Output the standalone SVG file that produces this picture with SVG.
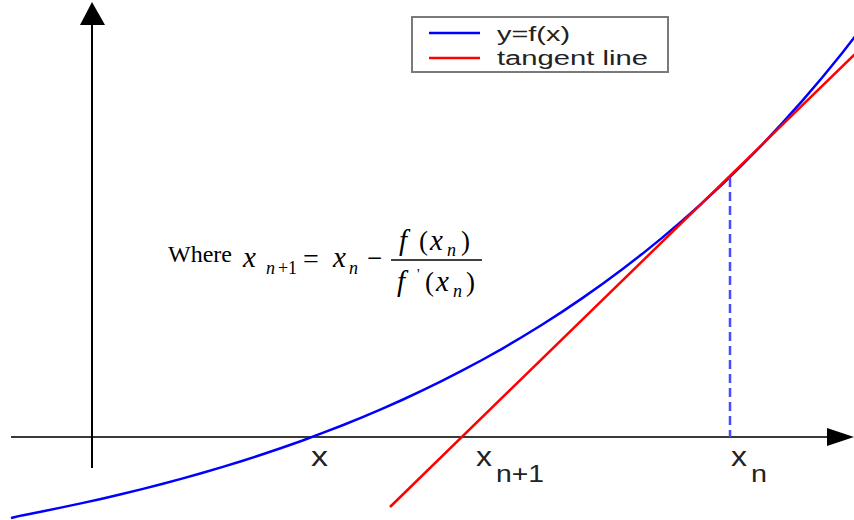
<svg xmlns="http://www.w3.org/2000/svg" width="854" height="520" viewBox="0 0 854 520">
  <defs>
    <style>
      .axis { stroke: #000; stroke-width: 2; fill: none; }
      .haxis { stroke: #3a3a3a; stroke-width: 2; fill: none; }
      .head { fill: #000; }
      .curve { stroke: #0000ff; stroke-width: 2.5; fill: none; stroke-linejoin: round; }
      .tangent { stroke: #ff0000; stroke-width: 2.5; fill: none; }
      .dash { stroke: #4a4aff; stroke-width: 2.5; stroke-dasharray: 9 5; fill: none; }
      .lbl { font-family: "Liberation Sans", Arial, sans-serif; fill: #222; }
      .leg { font-family: "Liberation Sans", Arial, sans-serif; font-size: 20px; fill: #222; }
      .m { font-family: "Liberation Serif", "Times New Roman", serif; fill: #000; }
      .mi { font-family: "Liberation Serif", "Times New Roman", serif; font-style: italic; fill: #000; }
    </style>
  </defs>
  <rect width="854" height="520" fill="#fff"/>

  <g id="axes">
    <line class="haxis" x1="11" y1="437" x2="830" y2="437"/>
    <polygon class="head" points="827,428 854,437 827,446"/>
    <line class="axis" x1="92" y1="468" x2="92" y2="22"/>
    <polygon class="head" points="80,25 92,2 105,25"/>
  </g>

  <g id="curve">
    <polyline class="curve" points="11,518 22,515.4 42,511.5 62,507.4 82,503.1 102,498.7 122,494 142,489.1 162,484 182,478.6 202,473 222,467.1 242,461 262,454.5 282,447.7 302,440.7 322,433.2 342,425.5 362,417.4 382,408.9 402,400 422,390.6 442,380.9 462,370.7 482,360 502,348.8 522,337 542,324.7 562,311.9 582,298.4 602,284.3 622,269.5 642,254.1 662,237.9 682,220.9 702,203.2 722,184.6 742,165.1 762,144.8 782,123.4 802,101.1 822,77.7 842,53.2 862,27.6"/>
  </g>

  <g id="tangent">
    <line class="tangent" x1="390" y1="507" x2="856" y2="53"/>
  </g>

  <g id="guide">
    <line class="dash" x1="730" y1="178" x2="730" y2="437"/>
  </g>

  <g id="legend">
    <rect x="412" y="17" width="256" height="55" fill="#fff" stroke="#7a7a7a" stroke-width="2"/>
    <line x1="429" y1="33" x2="480" y2="33" stroke="#0000ff" stroke-width="2.5"/>
    <line x1="429" y1="58" x2="480" y2="58" stroke="#ff0000" stroke-width="2.5"/>
    <text class="leg" x="497" y="41" textLength="73" lengthAdjust="spacingAndGlyphs">y=f(x)</text>
    <text class="leg" x="497" y="65" textLength="151" lengthAdjust="spacingAndGlyphs">tangent line</text>
  </g>

  <g id="labels">
    <text class="lbl" x="311" y="466" font-size="27" textLength="17" lengthAdjust="spacingAndGlyphs">x</text>
    <text class="lbl" x="476" y="466" font-size="27" textLength="16" lengthAdjust="spacingAndGlyphs">x</text>
    <text class="lbl" x="496" y="482" font-size="24" textLength="48" lengthAdjust="spacingAndGlyphs">n+1</text>
    <text class="lbl" x="731" y="466" font-size="27" textLength="16" lengthAdjust="spacingAndGlyphs">x</text>
    <text class="lbl" x="751" y="482" font-size="24" textLength="16" lengthAdjust="spacingAndGlyphs">n</text>
  </g>

  <g id="formula">
    <text class="m" x="168" y="262" font-size="24">Where</text>
    <text class="mi" x="243" y="267" font-size="29">x</text>
    <text class="mi" x="266" y="274" font-size="18">n</text>
    <text class="m" x="278" y="274" font-size="18">+</text>
    <text class="m" x="288" y="274" font-size="18">1</text>
    <text class="m" x="303" y="268" font-size="28">=</text>
    <text class="mi" x="333" y="267" font-size="29">x</text>
    <text class="mi" x="349" y="274" font-size="18">n</text>
    <text class="m" x="367" y="267" font-size="27">−</text>
    <line x1="391" y1="260" x2="482" y2="260" stroke="#000" stroke-width="1.3"/>
    <text class="mi" x="399" y="250" font-size="29">f</text>
    <text class="m" x="419" y="250" font-size="27">(</text>
    <text class="mi" x="430" y="250" font-size="29">x</text>
    <text class="mi" x="447" y="256" font-size="18">n</text>
    <text class="m" x="461" y="250" font-size="27">)</text>
    <text class="mi" x="397" y="291" font-size="29">f</text>
    <text class="m" x="417" y="279" font-size="15">'</text>
    <text class="m" x="425" y="291" font-size="27">(</text>
    <text class="mi" x="436" y="291" font-size="29">x</text>
    <text class="mi" x="453" y="297" font-size="18">n</text>
    <text class="m" x="466" y="291" font-size="27">)</text>
  </g>
</svg>
